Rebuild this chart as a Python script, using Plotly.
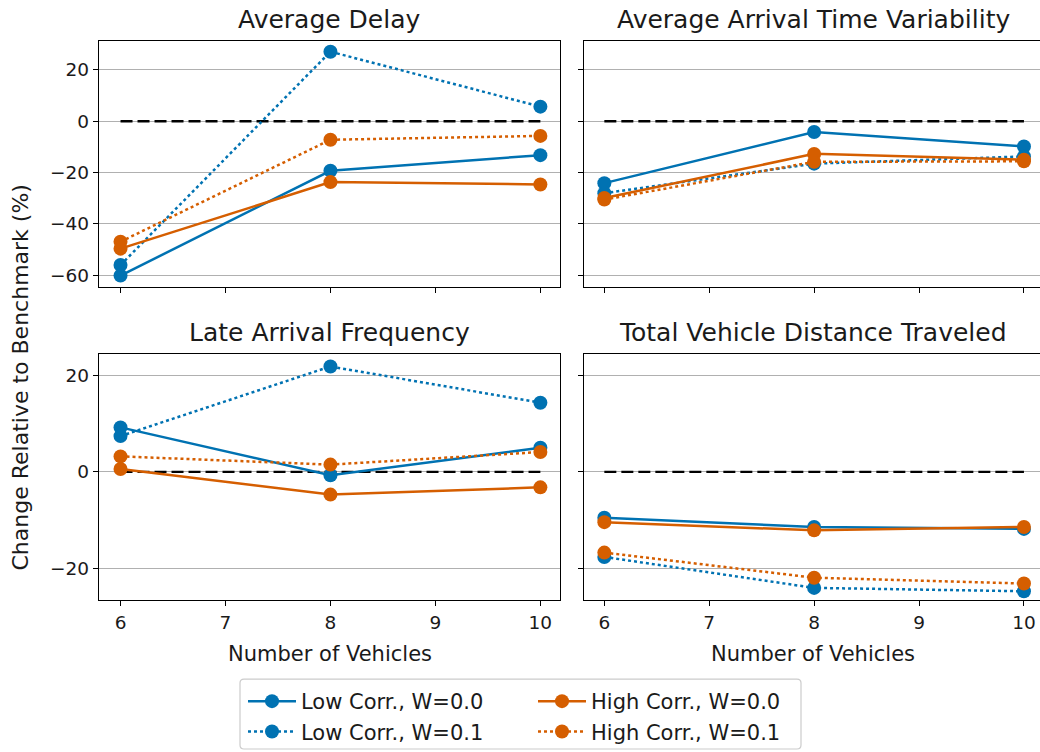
import plotly.graph_objects as go

W, H = 1040, 752

vehicles = [6, 8, 10]
panel_titles = [
    "Average Delay",
    "Average Arrival Time Variability",
    "Late Arrival Frequency",
    "Total Vehicle Distance Traveled",
]

# % change relative to benchmark, one list per panel (same order as panel_titles)
low_w00 = [[-60.1, -19.3, -13.2], [-24.1, -4.2, -9.8], [9.2, -0.7, 5.0], [-9.5, -11.4, -11.8]]
low_w01 = [[-56.0, 27.1, 5.7], [-28.0, -16.5, -13.7], [7.4, 21.8, 14.3], [-17.6, -24.0, -24.7]]
high_w00 = [[-49.6, -23.7, -24.6], [-29.9, -12.7, -15.0], [0.6, -4.7, -3.2], [-10.4, -12.1, -11.4]]
high_w01 = [[-46.9, -7.2, -5.7], [-30.5, -15.8, -15.6], [3.2, 1.5, 4.1], [-16.7, -21.9, -23.1]]

series_names = ["Low Corr., W=0.0", "Low Corr., W=0.1", "High Corr., W=0.0", "High Corr., W=0.1"]
top_ticks = [20, 0, -20, -40, -60]
bottom_ticks = [20, 0, -20]
x_ticks = [6, 7, 8, 9, 10]

BLUE = "#0072B2"
ORANGE = "#D55E00"
FONT = "DejaVu Sans"
TXT = "#1a1a1a"


def px_x(p):
    return p / W


def px_y(p):
    return 1 - p / H


# plot-area pixel boxes
col_x = [(99, 560), (584.3, 1040)]
row_y = [(41, 287.7), (354, 601)]
x_ranges = [[5.795, 10.187], [5.809, 10.153]]
y_ranges = [[-64.67, 31.28], [-26.55, 24.48]]

fig = go.Figure()

styles = [
    (low_w00, BLUE, "solid", "legend"),
    (low_w01, BLUE, "dot", "legend"),
    (high_w00, ORANGE, "solid", "legend2"),
    (high_w01, ORANGE, "dot", "legend2"),
]

for p in range(4):
    r, c = divmod(p, 2)
    idx = "" if p == 0 else str(p + 1)
    xa, ya = "x" + idx, "y" + idx
    # benchmark reference line
    fig.add_trace(go.Scatter(
        x=[vehicles[0], vehicles[-1]], y=[0, 0], mode="lines",
        line=dict(color="black", width=2.4, dash="12px,5px"),
        xaxis=xa, yaxis=ya, showlegend=False, hoverinfo="skip"))
    for s, (vals, color, dash, leg) in enumerate(styles):
        fig.add_trace(go.Scatter(
            x=vehicles, y=vals[p], mode="lines+markers", name=series_names[s],
            line=dict(color=color, width=2.5, dash=dash),
            marker=dict(color=color, size=14, line=dict(width=0)),
            xaxis=xa, yaxis=ya, showlegend=(p == 0), legend=leg))

    x0, x1 = col_x[c]
    y0, y1 = row_y[r]
    xkey = "xaxis" + idx
    ykey = "yaxis" + idx
    fig.layout[xkey] = dict(
        domain=[px_x(x0), px_x(x1)], range=x_ranges[c], anchor=ya,
        tickvals=x_ticks, showticklabels=(r == 1), ticks="outside", ticklen=5,
        tickwidth=1.2, tickcolor="black", showgrid=False, zeroline=False,
        showline=True, linecolor="black", linewidth=1.3, mirror=True,
        tickfont=dict(family=FONT, size=18.5, color=TXT), automargin=False)
    fig.layout[ykey] = dict(
        domain=[px_y(y1), px_y(y0)], range=y_ranges[r], anchor=xa,
        tickvals=top_ticks if r == 0 else bottom_ticks,
        showticklabels=(c == 0), ticks="outside", ticklen=5, tickwidth=1.2,
        tickcolor="black", showgrid=True, gridcolor="#b0b0b0", gridwidth=1.2,
        zeroline=False, showline=True, linecolor="black", linewidth=1.3,
        mirror=(c == 0), tickfont=dict(family=FONT, size=18.5, color=TXT),
        automargin=False)

annotations = []
title_centers_y = [20, 333]
for p, t in enumerate(panel_titles):
    r, c = divmod(p, 2)
    cx = (col_x[c][0] + col_x[c][1]) / 2 if c == 0 else 813
    annotations.append(dict(
        text=t, x=px_x(cx), y=px_y(title_centers_y[r]), xref="paper", yref="paper",
        xanchor="center", yanchor="middle", showarrow=False,
        font=dict(family=FONT, size=25, color=TXT)))
for cx in (329.5, 813):
    annotations.append(dict(
        text="Number of Vehicles", x=px_x(cx), y=px_y(655), xref="paper", yref="paper",
        xanchor="center", yanchor="middle", showarrow=False,
        font=dict(family=FONT, size=21, color=TXT)))
annotations.append(dict(
    text="Change Relative to Benchmark (%)", x=px_x(20), y=px_y(378),
    xref="paper", yref="paper", xanchor="center", yanchor="middle",
    textangle=-90, showarrow=False, font=dict(family=FONT, size=22, color=TXT)))


def rounded_box(x0, y0, x1, y1, rad=4):
    pts = []
    pts.append(f"M{px_x(x0 + rad)},{px_y(y0)}")
    pts.append(f"L{px_x(x1 - rad)},{px_y(y0)}")
    pts.append(f"Q{px_x(x1)},{px_y(y0)} {px_x(x1)},{px_y(y0 + rad)}")
    pts.append(f"L{px_x(x1)},{px_y(y1 - rad)}")
    pts.append(f"Q{px_x(x1)},{px_y(y1)} {px_x(x1 - rad)},{px_y(y1)}")
    pts.append(f"L{px_x(x0 + rad)},{px_y(y1)}")
    pts.append(f"Q{px_x(x0)},{px_y(y1)} {px_x(x0)},{px_y(y1 - rad)}")
    pts.append(f"L{px_x(x0)},{px_y(y0 + rad)}")
    pts.append(f"Q{px_x(x0)},{px_y(y0)} {px_x(x0 + rad)},{px_y(y0)}")
    return " ".join(pts) + " Z"


shapes = [dict(type="path", path=rounded_box(240, 680, 801, 750), xref="paper", yref="paper",
               line=dict(color="#cccccc", width=1.2), fillcolor="white", layer="below")]

legend_common = dict(
    orientation="v", xanchor="left", yanchor="top", bgcolor="rgba(0,0,0,0)",
    borderwidth=0, font=dict(family=FONT, size=21, color=TXT), tracegroupgap=0,
    itemwidth=48)

fig.update_layout(
    width=W, height=H,
    margin=dict(l=0, r=0, t=0, b=0),
    paper_bgcolor="white", plot_bgcolor="white",
    annotations=annotations, shapes=shapes,
    legend=dict(x=px_x(243), y=px_y(682), **legend_common),
    legend2=dict(x=px_x(533), y=px_y(682), **legend_common),
    showlegend=True,
)

fig.write_html("out.html")
